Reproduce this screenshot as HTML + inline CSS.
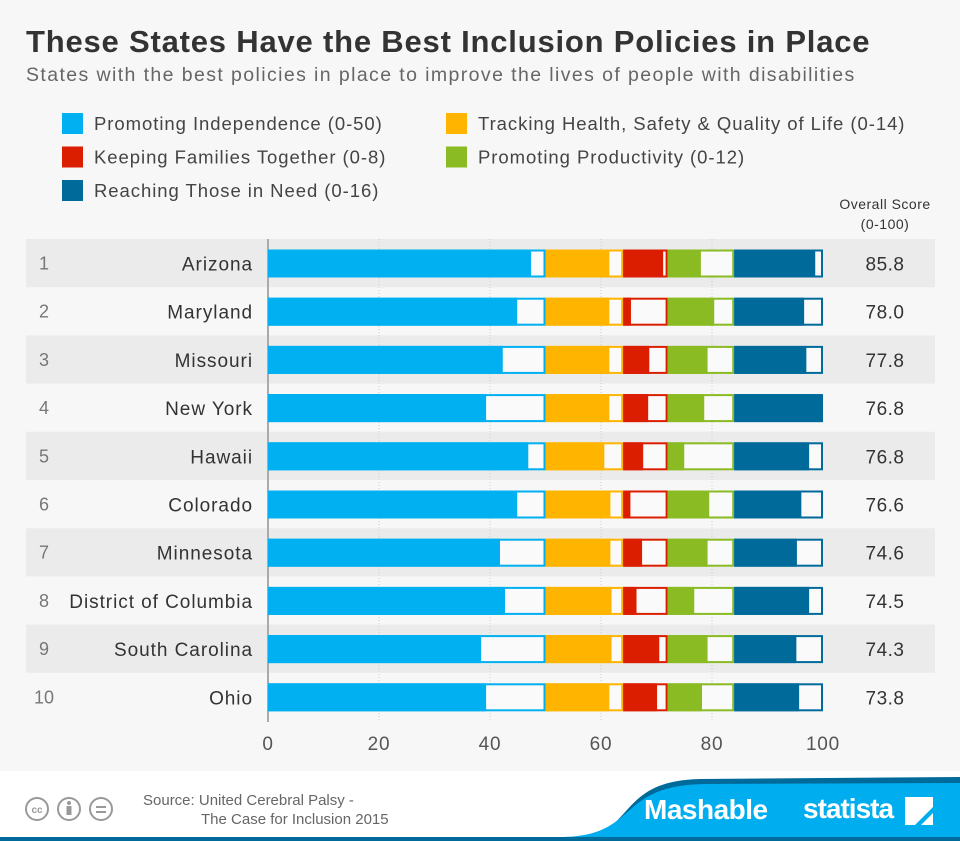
<!DOCTYPE html>
<html><head><meta charset="utf-8">
<style>
body{margin:0;width:960px;height:841px;background:#f7f7f7;font-family:"Liberation Sans",sans-serif;overflow:hidden;position:relative}
.t{position:absolute;white-space:nowrap}
</style></head>
<body>
<div class="t" style="left:26px;top:24px;font-size:31px;font-weight:bold;color:#333;letter-spacing:0.8px">These States Have the Best Inclusion Policies in Place</div>
<div class="t" style="left:26px;top:64px;font-size:19.5px;color:#666;letter-spacing:1.4px">States with the best policies in place to improve the lives of people with disabilities</div>
<svg id="chart" width="960" height="841" style="position:absolute;left:0;top:0" font-family="Liberation Sans, sans-serif"></svg>
<script>
const states=["Arizona","Maryland","Missouri","New York","Hawaii","Colorado","Minnesota","District of Columbia","South Carolina","Ohio"];
const scores=["85.8","78.0","77.8","76.8","76.8","76.6","74.6","74.5","74.3","73.8"];
const independence=[47.4,44.9,42.3,39.3,46.9,44.9,41.8,42.7,38.4,39.3];
const tracking=[11.5,11.5,11.5,11.5,10.6,11.7,11.7,11.9,11.9,11.5];
const families=[7.2,1.4,4.7,4.5,3.6,1.3,3.4,2.4,6.5,6.1];
const productivity=[6.0,8.4,7.2,6.6,3.0,7.5,7.2,4.8,7.2,6.2];
const need=[14.6,12.6,13.0,15.8,13.5,12.1,11.3,13.5,11.2,11.7];
const maxes=[50,14,8,12,16];
const colors=["#00b0f0","#ffb400","#dc1e00","#8abb23","#006b9b"];
const segNames=["independence","tracking","families","productivity","need"];
const legendLabels=["Promoting Independence (0-50)","Keeping Families Together (0-8)","Reaching Those in Need (0-16)","Tracking Health, Safety & Quality of Life (0-14)","Promoting Productivity (0-12)"];
const legendColors=["#00b0f0","#dc1e00","#006b9b","#ffb400","#8abb23"];
const ticks=[0,20,40,60,80,100];

const svg=document.getElementById('chart');
const NS='http://www.w3.org/2000/svg';
const x=v=>268+v*5.55;
const y=i=>263.5+i*48.2;
function mk(tag,attrs,parent){const e=document.createElementNS(NS,tag);for(const k in attrs)e.setAttribute(k,attrs[k]);(parent||svg).appendChild(e);return e;}

legendLabels.forEach((l,i)=>{
  const col=i<3?0:1,row=i<3?i:i-3;
  const lx=col?446:62, ly=123+row*33.5;
  const r=mk('rect',{x:lx,y:ly-10,width:21,height:21,fill:legendColors[i]});
  
  
  const t=mk('text',{x:lx+32,y:ly+7,'font-size':18.5,fill:'#444','letter-spacing':0.95});
  t.textContent=l;
  
  
});
['Overall Score','(0-100)'].forEach((s,i)=>{
  const t=mk('text',{x:885,y:209+i*20,'font-size':14,fill:'#333','text-anchor':'middle','letter-spacing':0.5});
  t.textContent=s;
  
  
});
states.forEach((s,i)=>{
  if(i%2===0){const b=mk('rect',{x:26,y:y(i)-24.5,width:909,height:48.2,fill:'#ebebeb'});
  
  }
});
ticks.slice(1,5).forEach(t=>{
  const g=mk('line',{x1:x(t),x2:x(t),y1:239,y2:722,stroke:'#ccc','stroke-dasharray':'1,2'});
  
  
});
const ax=mk('line',{x1:268,x2:268,y1:239,y2:722,stroke:'#aaa','stroke-width':2});


ticks.forEach(t=>{
  const tx=mk('text',{x:x(t),y:750,'font-size':19,fill:'#555','text-anchor':'middle','letter-spacing':0.8});
  tx.textContent=t;
  
  
});
const series=[independence,tracking,families,productivity,need];
states.forEach((s,i)=>{
  const cy=y(i);
  const rk=mk('text',{x:44,y:cy+6,'font-size':18,fill:'#777','text-anchor':'middle'});
  rk.textContent=i+1;
  
  
  const nm=mk('text',{x:253,y:cy+7,'font-size':19,fill:'#333','text-anchor':'end','letter-spacing':0.95});
  nm.textContent=s;
  
  
  const sc=mk('text',{x:885,y:cy+7,'font-size':19,fill:'#333','text-anchor':'middle','letter-spacing':0.5});
  sc.textContent=scores[i];
  
  
  let start=0;
  series.forEach((arr,k)=>{
    const w=x(start+maxes[k])-x(start);
    const o=mk('rect',{x:x(start)+1,y:cy-13,width:w-2,height:26,fill:'#fafafa',stroke:colors[k],'stroke-width':2});
    
    
    const f=mk('rect',{x:x(start),y:cy-14,width:x(start+arr[i])-x(start),height:28,fill:colors[k]});
    
    
    start+=maxes[k];
  });
});
</script>
<svg width="960" height="70" style="position:absolute;left:0;top:771px">
<rect x="0" y="0" width="960" height="70" fill="#fff"/>
<path d="M560 70 C640 70 610 10 700 8 L960 6 L960 70 Z" fill="#006b9b"/>
<path d="M560 66 C640 66 615 14 705 13 L960 12 L960 66 Z" fill="#00aeef"/>
<rect x="0" y="66" width="960" height="5" fill="#006b9b"/>
<g fill="none" stroke="#999" stroke-width="2"><circle cx="37" cy="38" r="11"/><circle cx="69" cy="38" r="11"/><circle cx="101" cy="38" r="11"/></g>
<text x="37" y="42" font-size="10" fill="#999" text-anchor="middle" font-weight="bold">cc</text>
<circle cx="69" cy="32" r="2" fill="#999"/><rect x="66.5" y="35" width="5" height="9" fill="#999"/>
<rect x="96" y="35" width="10" height="2" fill="#999"/><rect x="96" y="40" width="10" height="2" fill="#999"/>
</svg>
<div class="t" style="left:143px;top:791px;font-size:15px;color:#666;line-height:19px">Source: United Cerebral Palsy -<br><span style="padding-left:58px">The Case for Inclusion 2015</span></div>
<div class="t" style="left:644px;top:794px;font-size:28px;font-weight:bold;color:#fff;letter-spacing:-0.5px">Mashable</div>
<div class="t" style="left:803px;top:793px;font-size:28px;font-weight:bold;color:#fff;letter-spacing:-1px">statista</div>
<svg width="30" height="28" style="position:absolute;left:905px;top:797px"><path d="M0 0H28V10L10 28H0Z M28 16V28H16Z" fill="#fff"/></svg>
</body></html>
